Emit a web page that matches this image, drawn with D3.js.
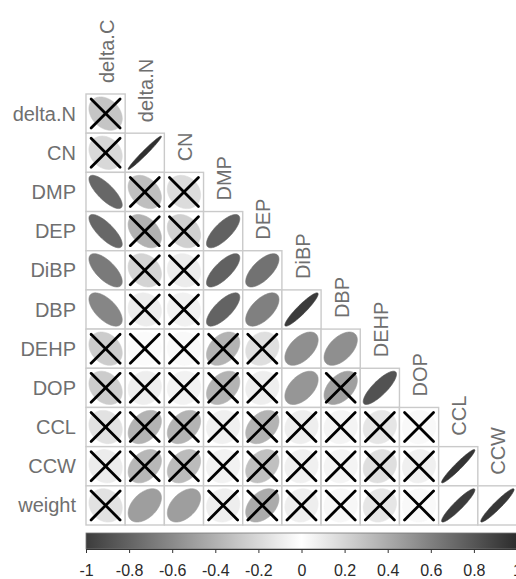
<!DOCTYPE html>
<html>
<head>
<meta charset="utf-8">
<script src="https://cdn.jsdelivr.net/npm/d3@7"></script>
<style>
  html, body { margin: 0; padding: 0; background: #fff; }
  svg { display: block; }
</style>
</head>
<body>
<svg id="chart" width="516" height="579"></svg>
<script>
// Variables of the correlation matrix (lower triangle, no diagonal)
const variables = ["delta.C", "delta.N", "CN", "DMP", "DEP", "DiBP", "DBP", "DEHP", "DOP", "CCL", "CCW", "weight"];
const columnVars = variables.slice(0, 11);
const rowVars = variables.slice(1);

// Pearson r for each row against the preceding columns
const corrRows = [
  [-0.30],
  [-0.20, 0.98],
  [-0.78, -0.33, -0.18],
  [-0.78, -0.40, -0.24, 0.75],
  [-0.68, -0.22, -0.10, 0.75, 0.67],
  [-0.62, -0.10, -0.07, 0.74, 0.60, 0.93],
  [-0.26, 0.02, -0.03, 0.36, 0.15, 0.53, 0.53],
  [-0.26, 0.08, 0.06, 0.36, 0.08, 0.50, 0.45, 0.82],
  [-0.15, 0.36, 0.36, 0.07, 0.36, 0.08, 0.05, 0.12, 0.03],
  [-0.10, 0.34, 0.32, 0.06, 0.30, 0.07, 0.05, 0.15, 0.07, 0.96],
  [-0.15, 0.46, 0.46, 0.08, 0.40, 0.08, 0.04, 0.12, 0.03, 0.93, 0.95]
];

// 1 = significant, 0 = crossed out as not significant
const sigRows = [
  [0],
  [0, 1],
  [1, 0, 0],
  [1, 0, 0, 1],
  [1, 0, 0, 1, 1],
  [1, 0, 0, 1, 1, 1],
  [0, 0, 0, 0, 0, 1, 1],
  [0, 0, 0, 0, 0, 1, 0, 1],
  [0, 0, 0, 0, 0, 0, 0, 0, 0],
  [0, 0, 0, 0, 0, 0, 0, 0, 0, 1],
  [0, 1, 1, 0, 0, 0, 0, 0, 0, 1, 1]
];

const legendTicks = [-1, -0.8, -0.6, -0.4, -0.2, 0, 0.2, 0.4, 0.6, 0.8, 1];

const cells = [];
corrRows.forEach((row, i) => row.forEach((r, j) => {
  cells.push({ row: rowVars[i], col: columnVars[j], r, sig: sigRows[i][j] === 1 });
}));

const svg = d3.select("#chart");
const font = "'Liberation Sans', Arial, Helvetica, sans-serif";

const gridLeft = 86, gridRight = 517, gridTop = 94;
const x = d3.scaleBand().domain(columnVars).range([gridLeft, gridRight]);
const step = x.bandwidth();
const y = d3.scaleBand().domain(rowVars).range([gridTop, gridTop + step * rowVars.length]);

const color = d3.scaleLinear()
  .domain([-1, 0, 1])
  .range(["#3c3c3c", "#ffffff", "#2c2c2c"]);

// cell frames
svg.append("g").selectAll("rect")
  .data(cells).join("rect")
  .attr("x", d => x(d.col))
  .attr("y", d => y(d.row))
  .attr("width", step)
  .attr("height", step)
  .attr("fill", "#fff")
  .attr("stroke", "#cacaca")
  .attr("stroke-width", 1.4);

// ellipse outline for a correlation r, in cell units
function ellipsePath(d) {
  const cx = x(d.col) + step / 2, cy = y(d.row) + step / 2;
  const a = Math.acos(d.r);
  const ks = d3.range(0, 99).map(i => i * 2 * Math.PI / 98);
  const line = d3.line()
    .x(k => cx + step * 0.85 * Math.cos(k + a / 2) / 2)
    .y(k => cy - step * 0.85 * Math.cos(k - a / 2) / 2);
  return line(ks) + "Z";
}

svg.append("g").selectAll("path")
  .data(cells).join("path")
  .attr("d", ellipsePath)
  .attr("fill", d => color(d.r))
  .attr("stroke", d => color(d.r))
  .attr("stroke-width", 0.6);

// crosses on non-significant cells
const half = 14.5;
const crosses = svg.append("g").selectAll("g")
  .data(cells.filter(d => !d.sig)).join("g")
  .attr("transform", d => `translate(${x(d.col) + step / 2},${y(d.row) + step / 2})`)
  .attr("stroke", "#000")
  .attr("stroke-width", 2.8)
  .attr("stroke-linecap", "round");
crosses.append("line").attr("x1", -half).attr("y1", -half).attr("x2", half).attr("y2", half);
crosses.append("line").attr("x1", -half).attr("y1", half).attr("x2", half).attr("y2", -half);

// row labels
svg.append("g").selectAll("text")
  .data(rowVars).join("text")
  .attr("x", 76)
  .attr("y", d => y(d) + step / 2)
  .attr("text-anchor", "end")
  .attr("dominant-baseline", "central")
  .attr("font-family", font)
  .attr("font-size", 20)
  .attr("fill", "#6f6f6f")
  .text(d => d);

// column labels, sitting above the first cell of each column
svg.append("g").selectAll("text")
  .data(columnVars).join("text")
  .attr("transform", (d, j) => `translate(${x(d) + step / 2 + 1},${y(rowVars[j]) - 11}) rotate(-90)`)
  .attr("text-anchor", "start")
  .attr("dominant-baseline", "central")
  .attr("font-family", font)
  .attr("font-size", 20)
  .attr("fill", "#6f6f6f")
  .text(d => d);

// colour legend
const barTop = 533, barHeight = 16;
const lx = d3.scaleLinear().domain([-1, 1]).range([gridLeft, gridRight]);
const grad = svg.append("defs").append("linearGradient")
  .attr("id", "legendGrad")
  .attr("x1", "0%").attr("x2", "100%").attr("y1", "0%").attr("y2", "0%");
grad.selectAll("stop")
  .data(d3.range(-1, 1.0001, 0.1))
  .join("stop")
  .attr("offset", d => ((d + 1) / 2 * 100) + "%")
  .attr("stop-color", d => color(d));

svg.append("rect")
  .attr("x", lx(-1))
  .attr("y", barTop)
  .attr("width", lx(1) - lx(-1))
  .attr("height", barHeight)
  .attr("fill", "url(#legendGrad)")
  .attr("stroke", "#777")
  .attr("stroke-width", 0.8);

const axis = d3.axisBottom(lx)
  .tickValues(legendTicks)
  .tickFormat(d => String(d))
  .tickSize(4)
  .tickSizeOuter(0)
  .tickPadding(12);

const axisG = svg.append("g")
  .attr("transform", `translate(0,${barTop + barHeight})`)
  .call(axis);
axisG.select(".domain").attr("stroke", "#333");
axisG.selectAll(".tick line").attr("stroke", "#333");
axisG.selectAll(".tick text")
  .attr("font-family", font)
  .attr("font-size", 16)
  .attr("fill", "#2a2a2a");
</script>
</body>
</html>
